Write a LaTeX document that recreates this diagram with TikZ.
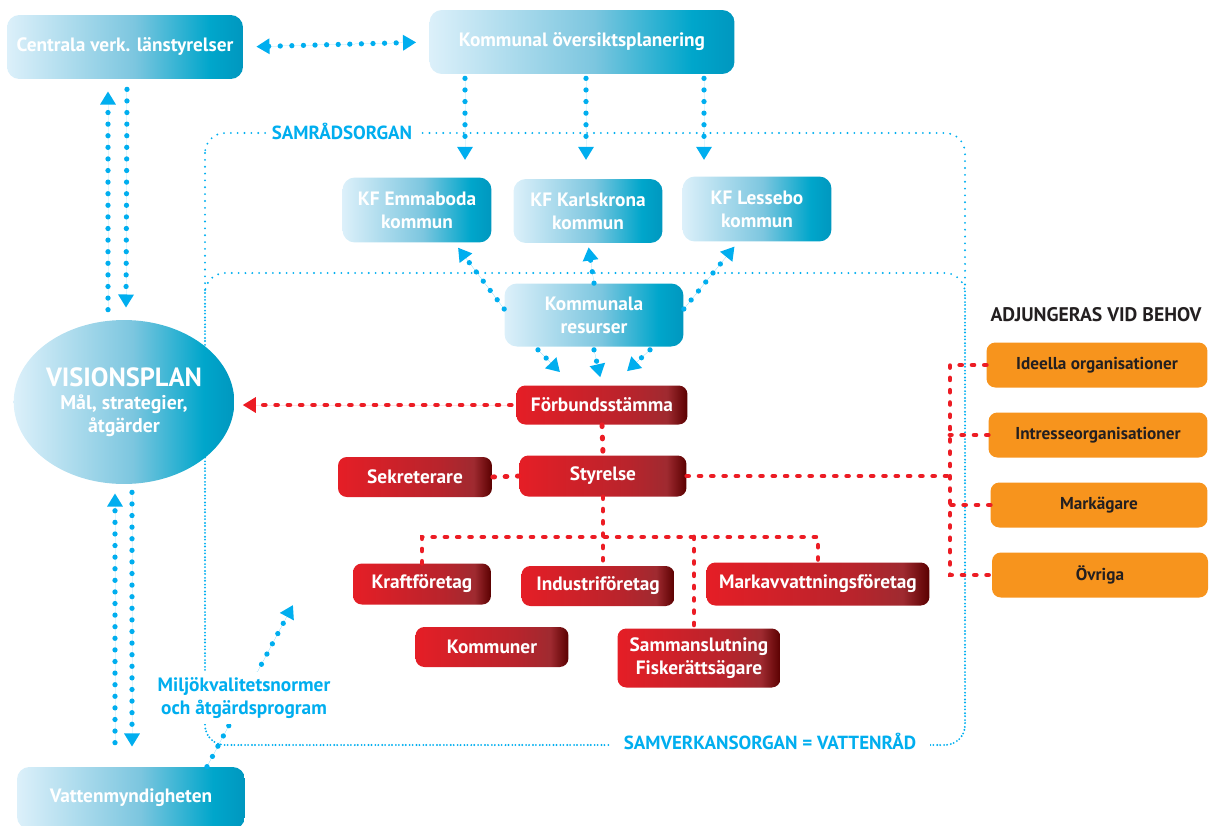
\documentclass[tikz,border=0pt]{standalone}
\usepackage{fontspec}
\setmainfont{PT Sans}
\usetikzlibrary{arrows.meta,shapes.geometric,calc}
\definecolor{flowblue}{HTML}{00AEEF}
\definecolor{flowred}{HTML}{EC1C24}
\definecolor{boxorange}{HTML}{F7941D}
\definecolor{darktext}{HTML}{231F20}
\definecolor{bL}{HTML}{DCF0FA}
\definecolor{bM}{HTML}{7CC6DF}
\definecolor{bR}{HTML}{00A6CB}
\definecolor{bD}{HTML}{0097BF}
\definecolor{rL}{HTML}{E51E26}
\definecolor{rM}{HTML}{B8242C}
\definecolor{rN}{HTML}{9F2A30}
\definecolor{rD}{HTML}{5A0000}
\pgfdeclarehorizontalshading{bluegrad}{100bp}{color(0bp)=(bL); color(25bp)=(bL); color(52bp)=(bM); color(68bp)=(bR); color(75bp)=(bD); color(100bp)=(bD)}
\pgfdeclarehorizontalshading{redgrad}{100bp}{color(0bp)=(rL); color(25bp)=(rL); color(58bp)=(rM); color(69bp)=(rN); color(75bp)=(rD); color(100bp)=(rD)}
\tikzset{
	bluebox/.style={shading=bluegrad, rounded corners=7pt, text=white, align=center, inner sep=0pt, font=\bfseries\fontsize{11}{13}\selectfont},
	redbox/.style={shading=redgrad, rounded corners=5pt, text=white, align=center, inner sep=0pt, font=\bfseries\fontsize{11}{13}\selectfont},
	orangebox/.style={fill=boxorange, rounded corners=5pt, text=darktext, inner sep=0pt, font=\bfseries\fontsize{9.8}{12}\selectfont},
	lbl/.style={fill=white, text=flowblue, align=center, inner sep=3pt, font=\bfseries\fontsize{10.8}{12.5}\selectfont},
	frame/.style={draw=flowblue, line width=1.2pt, line cap=round, dash pattern=on 0pt off 3.9pt, rounded corners=0.4cm},
	flow/.style={draw=flowblue, line width=3pt, line cap=round, dash pattern=on 0pt off 6.6pt},
	flowarrow/.style={flow, -{Triangle[width=8.5pt,length=7.5pt]}, fill=flowblue},
	flowboth/.style={flow, {Triangle[width=8.5pt,length=7.5pt]}-{Triangle[width=8.5pt,length=7.5pt]}, fill=flowblue},
	redline/.style={draw=flowred, line width=2.8pt, line cap=round, dash pattern=on 1pt off 6pt},
	redarrow/.style={redline, -{Triangle[width=8.5pt,length=7.5pt]}, fill=flowred},
}
\begin{document}
\begin{tikzpicture}[x=0.02cm, y=-0.02cm]
	\useasboundingbox (0,0) rectangle (1209,825);
	\clip (0,0) rectangle (1209,825);

	\draw[frame] (205,133) rectangle (965,745);
	\draw[frame] (205,273) rectangle (965,745);

	\node (cvl) at (125,47)		[bluebox, minimum width=4.72cm, minimum height=1.28cm]	{Centrala verk. länstyrelser};
	\node (kop) at (582,42)		[bluebox, minimum width=6.1cm, minimum height=1.28cm]	{Kommunal översiktsplanering};
	\node (emm) at (417,210)	[bluebox, minimum width=2.98cm, minimum height=1.3cm]	{KF Emmaboda\\kommun};
	\node (kar) at (588,211)	[bluebox, minimum width=2.98cm, minimum height=1.28cm]	{KF Karlskrona\\kommun};
	\node (les) at (757,209)	[bluebox, minimum width=2.98cm, minimum height=1.3cm]	{KF Lessebo\\kommun};
	\node (res) at (594,315)	[bluebox, minimum width=3.58cm, minimum height=1.26cm]	{Kommunala\\resurser};
	\node (vis) at (124,402)	[bluebox, ellipse, minimum width=4cm, minimum height=3.28cm, font=\bfseries\fontsize{11.3}{13}\selectfont]	{{\fontsize{15}{16.5}\selectfont VISIONSPLAN}\\Mål, strategier,\\åtgärder};
	\node (vat) at (131,798)	[bluebox, minimum width=4.56cm, minimum height=1.24cm]	{Vattenmyndigheten};

	\node (fst) at (602,405)	[redbox, minimum width=3.42cm, minimum height=0.78cm]	{Förbundsstämma};
	\node (sek) at (415,477)	[redbox, minimum width=3.08cm, minimum height=0.8cm]	{Sekreterare};
	\node (sty) at (603,476)	[redbox, minimum width=3.34cm, minimum height=0.82cm]	{Styrelse};
	\node (kra) at (422,584)	[redbox, minimum width=2.76cm, minimum height=0.82cm]	{Kraftföretag};
	\node (ind) at (598,586)	[redbox, minimum width=3.06cm, minimum height=0.8cm]	{Industriföretag};
	\node (mar) at (818,584)	[redbox, minimum width=4.46cm, minimum height=0.86cm]	{Markavvattningsföretag};
	\node (kom) at (492,647)	[redbox, minimum width=3.06cm, minimum height=0.8cm]	{Kommuner};
	\node (sam) at (699,658)	[redbox, minimum width=3.26cm, minimum height=1.18cm]	{Sammanslutning\\Fiskerättsägare};

	\node (ide) at (1097,365)	[orangebox, minimum width=4.42cm, minimum height=0.9cm]	{Ideella organisationer};
	\node (int) at (1098,435)	[orangebox, minimum width=4.38cm, minimum height=0.9cm]	{Intresseorganisationer};
	\node (mka) at (1099,505)	[orangebox, minimum width=4.34cm, minimum height=0.9cm]	{Markägare};
	\node (ovr) at (1100,575)	[orangebox, minimum width=4.32cm, minimum height=0.9cm]	{Övriga};

	\coordinate (d1) at (465,160);
	\coordinate (d2) at (586,160);
	\coordinate (d3) at (704,160);
	\coordinate (bus) at (600,537);
	\coordinate (rbus) at (950,478);
	\coordinate (mq) at (293,605);

	\draw[flowboth, shorten <=0.26cm, shorten >=0.26cm] (cvl.east) -- (kop.west);
	\draw[flowarrow, shorten <=0.08cm] (d1 |- kop.south) -- (d1);
	\draw[flowarrow, shorten <=0.08cm] (d2 |- kop.south) -- (d2);
	\draw[flowarrow, shorten <=0.08cm] (d3 |- kop.south) -- (d3);

	\draw[flowarrow, shorten >=0.12cm] ([yshift=0.12cm]res.west) -- ($(emm.south)!0.5!(emm.south east)$);
	\draw[flowarrow, shorten >=0.08cm] (res.north) -- (kar.south);
	\draw[flowarrow, shorten >=0.12cm] ([yshift=0.12cm]res.east) -- ($(les.south)!0.25!(les.south west)$);
	\draw[flowarrow] ($(res.south)+(-56,3)$) -- ($(fst.north)+(-42,-13)$);
	\draw[flowarrow, shorten >=0.16cm] ($(res.south)+(0,3)$) -- (fst.north);
	\draw[flowarrow] ($(res.south)+(56,3)$) -- ($(fst.north)+(25,-14)$);

	\draw[flowarrow] ($(vis.north)+(-16,-10)$) -- ($(cvl.south)+(-17,12)$);
	\draw[flowarrow] ($(cvl.south)+(2,10)$) -- ($(vis.north)+(2,-12)$);
	\draw[flowarrow] ($(vat.north)+(-16,-24)$) -- ($(vis.south)+(-9,9)$);
	\draw[flowarrow] ($(vis.south)+(8,8)$) -- ($(vat.north)+(1,-20)$);
	\draw[flowarrow] ($(vat.north)+(76,0)$) -- (mq);

	\draw[redarrow, shorten <=0.1cm, shorten >=0.16cm] (fst.west) -- (fst.west -| vis.east);
	\draw[redline] (fst.south) -- (sty.north);
	\draw[redline] (sty.west) -- (sek.east);
	\draw[redline] (sty.south) -- (sty.south |- ind.north);
	\draw[redline] (kra.north) |- (bus) -| (mar.north);
	\draw[redline] ($(sam.north |- bus)+(-5,0)$) -- ($(sam.north)+(-5,0)$);
	\draw[redline] (sty.east) -- (sty.east -| rbus);
	\draw[redline] (ide.west) -| (rbus |- ovr.west) -- (ovr.west);
	\draw[redline] (int.west) -- (int.west -| rbus);
	\draw[redline] (mka.west) -- (mka.west -| rbus);

	\node (samrad) at (342,131)	[lbl, inner ysep=1pt]	{SAMRÅDSORGAN};
	\node (samverk) at (770,741)	[lbl, inner xsep=8pt]	{SAMVERKANSORGAN = VATTENRÅD};
	\node (miljo) at (244,698)	[lbl, font=\bfseries\fontsize{11}{13}\selectfont]	{Miljökvalitetsnormer\\och åtgärdsprogram};
	\node (adj) at (1096,315)	[text=darktext, font=\bfseries\fontsize{11.2}{12}\selectfont]	{ADJUNGERAS VID BEHOV};
\end{tikzpicture}
\end{document}
